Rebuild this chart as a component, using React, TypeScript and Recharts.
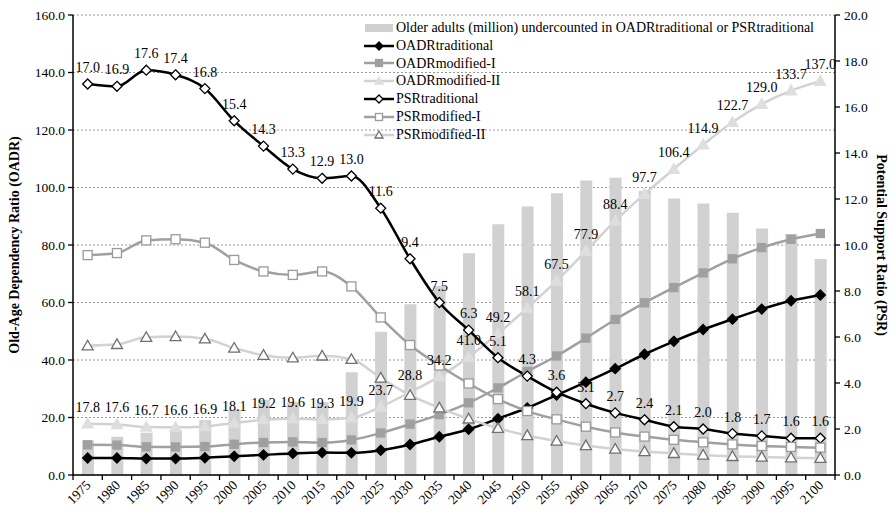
import { ComposedChart, Bar, Line, XAxis, YAxis, CartesianGrid, Legend, LabelList } from 'recharts';

const years = [
  '1975', '1980', '1985', '1990', '1995', '2000', '2005', '2010', '2015', '2020', '2025', '2030', '2035',
  '2040', '2045', '2050', '2055', '2060', '2065', '2070', '2075', '2080', '2085', '2090', '2095', '2100',
];

// million older adults undercounted (left axis)
const undercounted = [
  12.0, 13.3, 14.7, 15.6, 19.1, 22.8, 26.2, 25.3, 25.3, 35.7, 49.8, 59.4, 65.7,
  77.1, 87.2, 93.4, 98.0, 102.4, 103.4, 98.8, 96.2, 94.4, 91.2, 85.7, 83.8, 75.1,
];
const oadrTraditional = [
  5.9, 5.9, 5.7, 5.7, 6.0, 6.5, 7.0, 7.5, 7.8, 7.7, 8.6, 10.6, 13.3,
  15.9, 19.6, 23.3, 27.8, 32.3, 37.0, 42.0, 46.5, 50.6, 54.2, 57.7, 60.6, 62.6,
];
const oadrModifiedI = [
  10.5, 10.4, 9.8, 9.75, 9.9, 10.7, 11.3, 11.5, 11.3, 12.2, 14.6, 17.7, 21.0,
  25.1, 30.3, 36.0, 41.4, 47.6, 54.1, 59.9, 65.2, 70.3, 75.2, 79.1, 82.0, 84.0,
];
const oadrModifiedII = [
  17.8, 17.6, 16.7, 16.6, 16.9, 18.1, 19.2, 19.6, 19.3, 19.9, 23.7, 28.8, 34.2,
  41.0, 49.2, 58.1, 67.5, 77.9, 88.4, 97.7, 106.4, 114.9, 122.7, 129.0, 133.7, 137.0,
];
// PSR series (right axis)
const psrTraditional = [
  17.0, 16.9, 17.6, 17.4, 16.8, 15.4, 14.3, 13.3, 12.9, 13.0, 11.6, 9.4, 7.5,
  6.3, 5.1, 4.3, 3.6, 3.1, 2.7, 2.4, 2.1, 2.0, 1.8, 1.7, 1.6, 1.6,
];
const psrModifiedI = [
  9.56, 9.65, 10.2, 10.25, 10.1, 9.35, 8.85, 8.7, 8.85, 8.2, 6.85, 5.65, 4.76,
  3.98, 3.3, 2.78, 2.42, 2.1, 1.85, 1.67, 1.53, 1.42, 1.33, 1.26, 1.22, 1.19,
];
const psrModifiedII = [
  5.62, 5.68, 5.99, 6.02, 5.92, 5.52, 5.21, 5.10, 5.18, 5.03, 4.22, 3.47, 2.92,
  2.44, 2.03, 1.72, 1.48, 1.28, 1.13, 1.02, 0.94, 0.87, 0.81, 0.78, 0.75, 0.73,
];

const leftTicks = [0, 20, 40, 60, 80, 100, 120, 140, 160];
const rightTicks = [0, 2, 4, 6, 8, 10, 12, 14, 16, 18, 20];

const barName = 'Older adults (million) undercounted in OADRtraditional or PSRtraditional';

const data = years.map((year, i) => ({
  year,
  undercounted: undercounted[i],
  oadrTrad: oadrTraditional[i],
  oadrModI: oadrModifiedI[i],
  oadrModII: oadrModifiedII[i],
  psrTrad: psrTraditional[i],
  psrModI: psrModifiedI[i],
  psrModII: psrModifiedII[i],
}));

const FONT = '"Liberation Serif", "Times New Roman", serif';
const W = 891;
const H = 513;
const LEFT_W = 73;
const RIGHT_W = 56;
const BAND = (W - LEFT_W - RIGHT_W) / years.length;

type Shape = 'diamond' | 'square' | 'triangle';

const lineSeries = [
  { key: 'oadrTrad', name: 'OADRtraditional', axis: 'left', stroke: '#000000', shape: 'diamond' as Shape, fill: '#000000', mark: '#000000', size: 10, labels: false },
  { key: 'oadrModI', name: 'OADRmodified-I', axis: 'left', stroke: '#a0a0a0', shape: 'square' as Shape, fill: '#a0a0a0', mark: '#a0a0a0', size: 9, labels: false },
  { key: 'oadrModII', name: 'OADRmodified-II', axis: 'left', stroke: '#d2d2d2', shape: 'triangle' as Shape, fill: '#dedede', mark: '#dedede', size: 11, labels: true },
  { key: 'psrTrad', name: 'PSRtraditional', axis: 'right', stroke: '#000000', shape: 'diamond' as Shape, fill: '#ffffff', mark: '#000000', size: 10, labels: true },
  { key: 'psrModI', name: 'PSRmodified-I', axis: 'right', stroke: '#a0a0a0', shape: 'square' as Shape, fill: '#ffffff', mark: '#9a9a9a', size: 10, labels: false },
  { key: 'psrModII', name: 'PSRmodified-II', axis: 'right', stroke: '#d2d2d2', shape: 'triangle' as Shape, fill: '#ffffff', mark: '#707070', size: 11, labels: false },
];

function Marker({ cx, cy, shape, fill, stroke, size }: { cx: number; cy: number; shape: Shape; fill: string; stroke: string; size: number }) {
  if (cx == null || cy == null) return null;
  const h = size / 2;
  if (shape === 'diamond') {
    return <polygon points={`${cx},${cy - h} ${cx + h},${cy} ${cx},${cy + h} ${cx - h},${cy}`} fill={fill} stroke={stroke} strokeWidth={1.3} />;
  }
  if (shape === 'square') {
    return <rect x={cx - h + 0.5} y={cy - h + 0.5} width={size - 1} height={size - 1} fill={fill} stroke={stroke} strokeWidth={1.3} />;
  }
  return <polygon points={`${cx},${cy - h} ${cx + h},${cy + h * 0.75} ${cx - h},${cy + h * 0.75}`} fill={fill} stroke={stroke} strokeWidth={1.3} />;
}

function YearTick(props: any) {
  const { x, y, payload, index } = props;
  const half = BAND / 2;
  return (
    <g>
      <line x1={x - half} x2={x - half} y1={y} y2={y + 5} stroke="#000" strokeWidth={1.3} />
      {index === years.length - 1 && <line x1={x + half} x2={x + half} y1={y} y2={y + 5} stroke="#000" strokeWidth={1.3} />}
      <text
        x={x + 4}
        y={y + 11}
        transform={`rotate(-45, ${x + 4}, ${y + 11})`}
        textAnchor="end"
        fontSize={13.5}
        fontFamily={FONT}
        fill="#000"
      >
        {payload.value}
      </text>
    </g>
  );
}

const valueLabel = (p: any) => {
  const x = p.x ?? p.viewBox?.x;
  const y = p.y ?? p.viewBox?.y;
  return (
    <text x={x} y={y - 12} textAnchor="middle" fontSize={14} fontFamily={FONT} fill="#000">
      {Number(p.value).toFixed(1)}
    </text>
  );
};

function ChartLegend() {
  const row = { display: 'flex', alignItems: 'center', height: 17.8 } as const;
  return (
    <div style={{ fontFamily: FONT, fontSize: 14, color: '#000', lineHeight: '17.8px' }}>
      <div style={row}>
        <svg width={30} height={12} style={{ marginRight: 2 }}>
          <rect x={1} y={2} width={28} height={8} fill="#d0d0d0" />
        </svg>
        <span>{barName}</span>
      </div>
      {lineSeries.map((s) => (
        <div key={s.key} style={row}>
          <svg width={30} height={12} style={{ marginRight: 2 }}>
            <line x1={0} x2={30} y1={6} y2={6} stroke={s.stroke} strokeWidth={2.5} />
            <Marker cx={15} cy={6} shape={s.shape} fill={s.fill} stroke={s.mark} size={8} />
          </svg>
          <span>{s.name}</span>
        </div>
      ))}
    </div>
  );
}

export default function App() {
  const axisTick = { fill: '#000', fontSize: 13.5, fontFamily: FONT };
  return (
    <div style={{ position: 'absolute', left: 0, top: 0, width: W, height: H, background: '#fff' }}>
      <ComposedChart width={W} height={H} data={data} margin={{ top: 15, right: 0, bottom: 0, left: 0 }}>
        <CartesianGrid yAxisId="left" vertical={false} stroke="#9a9a9a" strokeDasharray="2 2" />
        <XAxis
          dataKey="year"
          height={38}
          interval={0}
          tickSize={0}
          tickMargin={0}
          tickLine={false}
          axisLine={{ stroke: '#000', strokeWidth: 1.5 }}
          tick={<YearTick />}
        />
        <YAxis
          yAxisId="left"
          width={LEFT_W}
          domain={[0, 160]}
          ticks={leftTicks}
          tickFormatter={(v: number) => v.toFixed(1)}
          tick={axisTick}
          tickSize={5}
          tickMargin={3}
          tickLine={{ stroke: '#000', strokeWidth: 1.3 }}
          axisLine={{ stroke: '#000', strokeWidth: 1.5 }}
        />
        <YAxis
          yAxisId="right"
          orientation="right"
          width={RIGHT_W}
          domain={[0, 20]}
          ticks={rightTicks}
          tickFormatter={(v: number) => v.toFixed(1)}
          tick={axisTick}
          tickSize={5}
          tickMargin={4}
          tickLine={{ stroke: '#000', strokeWidth: 1.3 }}
          axisLine={{ stroke: '#000', strokeWidth: 1.5 }}
        />
        <Legend
          layout="vertical"
          align="center"
          verticalAlign="middle"
          content={<ChartLegend />}
          wrapperStyle={{ left: 364, top: 19, width: 470, height: 126 }}
        />
        <Bar yAxisId="left" dataKey="undercounted" name={barName} fill="#d1d1d1" barSize={12} isAnimationActive={false} />
        {lineSeries.map((s) => (
          <Line
            key={s.key}
            yAxisId={s.axis}
            type="monotone"
            dataKey={s.key}
            name={s.name}
            stroke={s.stroke}
            strokeWidth={2.5}
            dot={(p: any) => (
              <Marker key={`${s.key}-${p.index}`} cx={p.cx} cy={p.cy} shape={s.shape} fill={s.fill} stroke={s.mark} size={s.size} />
            )}
            activeDot={false}
            isAnimationActive={false}
          >
            {s.labels && <LabelList dataKey={s.key} content={valueLabel} />}
          </Line>
        ))}
      </ComposedChart>
      <div
        style={{
          position: 'absolute', left: 15 - 200, top: 245 - 10, width: 400, height: 20,
          textAlign: 'center', transform: 'rotate(-90deg)', fontFamily: FONT, fontSize: 14,
          fontWeight: 'bold', lineHeight: '20px', color: '#000',
        }}
      >
        Old-Age Dependency Ratio (OADR)
      </div>
      <div
        style={{
          position: 'absolute', left: 881 - 200, top: 245 - 10, width: 400, height: 20,
          textAlign: 'center', transform: 'rotate(90deg)', fontFamily: FONT, fontSize: 14,
          fontWeight: 'bold', lineHeight: '20px', color: '#000',
        }}
      >
        Potential Support Ratio (PSR)
      </div>
    </div>
  );
}
